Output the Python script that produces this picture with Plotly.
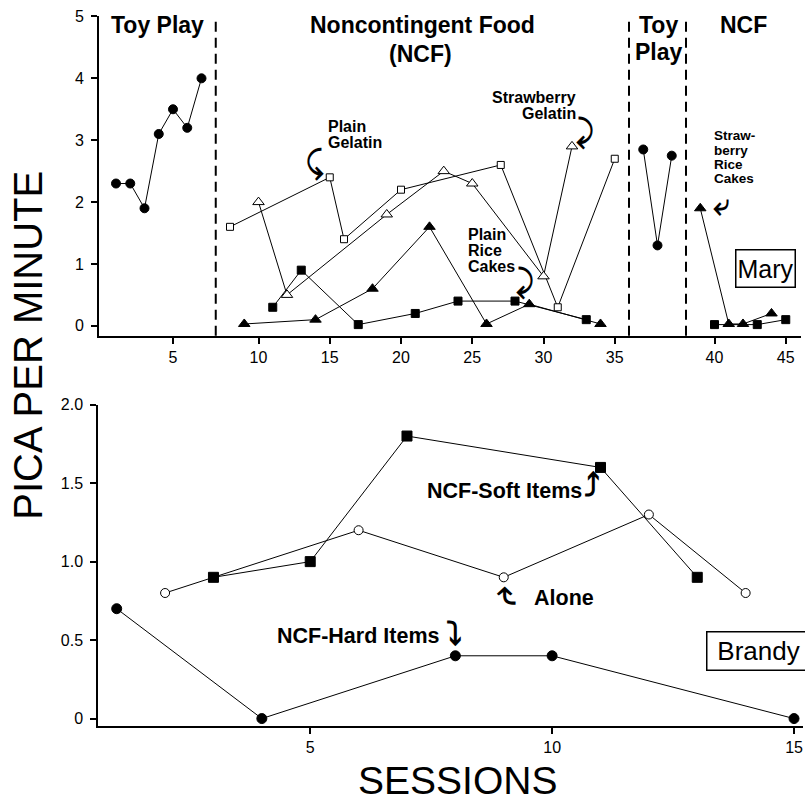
import plotly.graph_objects as go

W, H = 805, 801
FONT = "Liberation Sans, Arial, Helvetica, sans-serif"

# ---------------- data: Mary (top panel) ----------------
toy1_sessions = [1, 2, 3, 4, 5, 6, 7]
toy1_rate = [2.3, 2.3, 1.9, 3.1, 3.5, 3.2, 4.0]

plain_gel_sessions = [8, 15, 16, 20, 27, 31, 35]
plain_gel_rate = [1.6, 2.4, 1.4, 2.2, 2.6, 0.3, 2.7]

straw_gel_sessions = [10, 12, 19, 23, 25, 30, 32]
straw_gel_rate = [2.0, 0.5, 1.8, 2.5, 2.3, 0.8, 2.9]

plain_rice_sessions = [11, 13, 17, 21, 24, 28, 33]
plain_rice_rate = [0.3, 0.9, 0.02, 0.2, 0.4, 0.4, 0.1]

straw_rice_sessions = [9, 14, 18, 22, 26, 29, 34]
straw_rice_rate = [0.03, 0.1, 0.6, 1.6, 0.03, 0.35, 0.03]

toy2_sessions = [36, 37, 38]
toy2_rate = [2.85, 1.3, 2.75]

ncf2_straw_rice_sessions = [39, 41, 42, 44]
ncf2_straw_rice_rate = [1.9, 0.03, 0.03, 0.2]

ncf2_plain_rice_sessions = [40, 43, 45]
ncf2_plain_rice_rate = [0.02, 0.02, 0.1]

mary_ticks = [0, 1, 2, 3, 4, 5]
phase1_ticks = [5]
phase2_ticks = [10, 15, 20, 25, 30, 35]
phase4_ticks = [40, 45]

# ---------------- data: Brandy (bottom panel) ----------------
hard_sessions = [1, 4, 8, 10, 15]
hard_rate = [0.7, 0.0, 0.4, 0.4, 0.0]

soft_sessions = [3, 5, 7, 11, 13]
soft_rate = [0.9, 1.0, 1.8, 1.6, 0.9]

alone_sessions = [2, 6, 9, 12, 14]
alone_rate = [0.8, 1.2, 0.9, 1.3, 0.8]

brandy_ticks = [0, 0.5, 1.0, 1.5, 2.0]
brandy_ticktext = ["0", "0.5", "1.0", "1.5", "2.0"]
brandy_xticks = [5, 10, 15]


def px(x):
    return x / W


def py(y):
    # layout positions measured on the reference picture, mapped to figure space
    return 1 - ((y - 6.85) / 0.99) / H


fig = go.Figure()


def add_series(xs, ys, xa, ya, symbol, size, filled=True):
    fig.add_trace(go.Scatter(
        x=xs, y=ys, xaxis=xa, yaxis=ya, mode="lines+markers",
        line=dict(color="black", width=1),
        marker=dict(symbol=symbol, size=size,
                    color="black" if filled else "white",
                    line=dict(color="black", width=1)),
        showlegend=False, cliponaxis=False, hoverinfo="skip",
    ))


# top panel
add_series(toy1_sessions, toy1_rate, "x", "y", "circle", 9)
add_series(plain_gel_sessions, plain_gel_rate, "x2", "y", "square", 7, False)
add_series(straw_gel_sessions, straw_gel_rate, "x2", "y", "triangle-up", 10, False)
add_series(plain_rice_sessions, plain_rice_rate, "x2", "y", "square", 8)
add_series(straw_rice_sessions, straw_rice_rate, "x2", "y", "triangle-up", 10)
add_series(toy2_sessions, toy2_rate, "x3", "y", "circle", 9)
add_series(ncf2_straw_rice_sessions, ncf2_straw_rice_rate, "x4", "y", "triangle-up", 10)
add_series(ncf2_plain_rice_sessions, ncf2_plain_rice_rate, "x4", "y", "square", 8)

# bottom panel
add_series(hard_sessions, hard_rate, "x5", "y2", "circle", 10)
add_series(soft_sessions, soft_rate, "x5", "y2", "square", 10)
add_series(alone_sessions, alone_rate, "x5", "y2", "circle", 9, False)

axis_common = dict(showline=True, linewidth=2, linecolor="black", ticks="outside",
                   tickwidth=1.5, tickcolor="black", ticklen=6, showgrid=False,
                   zeroline=False, tickfont=dict(family=FONT, size=16, color="black"))

top_dom = [py(335), py(15.3)]
bot_dom = [py(725.7), py(404)]

# phase boundaries (pixel positions of dashed lines)
b0, b1, b2, b3, b4 = 99, 215.75, 629, 686, 801
unit = 14.25

fig.update_layout(
    width=W, height=H, margin=dict(l=0, r=0, t=0, b=0),
    paper_bgcolor="white", plot_bgcolor="white",
    xaxis=dict(domain=[px(b0), px(b1)], range=[8 - (b1 - b0) / unit, 8], anchor="y",
               tickvals=phase1_ticks, **axis_common),
    xaxis2=dict(domain=[px(b1), px(b2)], range=[7, 7 + (b2 - b1) / unit], anchor="y",
                tickvals=phase2_ticks, **axis_common),
    xaxis3=dict(domain=[px(b2), px(b3)], range=[35, 35 + (b3 - b2) / unit], anchor="y",
                tickvals=[], **axis_common),
    xaxis4=dict(domain=[px(b3), px(b4)], range=[38, 38 + (b4 - b3) / unit], anchor="y",
                tickvals=phase4_ticks, **axis_common),
    yaxis=dict(domain=top_dom, range=[-0.16, 5.0], anchor="x", tickvals=mary_ticks,
               ticklabelstandoff=4, **axis_common),
    xaxis5=dict(domain=[px(98.3), px(803)], range=[1 - (116.7 - 98.3) / 48.38, 1 + (803 - 116.7) / 48.38],
                anchor="y2", tickvals=brandy_xticks, **axis_common),
    yaxis2=dict(domain=bot_dom, range=[-0.047, 2.0], anchor="x5", tickvals=brandy_ticks,
                ticktext=brandy_ticktext, ticklabelstandoff=4, **axis_common),
)

# dashed phase-change lines
for xr in ["x2 domain", "x3 domain", "x4 domain"]:
    fig.add_shape(type="line", xref=xr, yref="y domain", x0=0, x1=0, y0=0, y1=0.985,
                  line=dict(color="black", width=2, dash="10px,6px"))

annotations = []


def text(x, y, s, size, bold=True, xanchor="center", family=FONT, angle=0):
    annotations.append(dict(
        x=px(x), y=py(y), xref="paper", yref="paper", text=f"<b>{s}</b>" if bold else s,
        showarrow=False, xanchor=xanchor, yanchor="middle", textangle=angle,
        font=dict(family=family, size=size, color="black")))


# phase headers
text(157, 24, "Toy Play", 23)
text(423, 24, "Noncontingent Food", 23)
text(420, 53, "(NCF)", 23)
text(658, 24, "Toy", 23)
text(658.5, 51, "Play", 23)
text(743, 24, "NCF", 23)

# condition labels (top)
text(326, 125.5, "Plain", 16, xanchor="left")
text(326, 142, "Gelatin", 16, xanchor="left")
text(578, 96, "Strawberry", 16, xanchor="right")
text(578, 112, "Gelatin", 16, xanchor="right")
text(466, 234, "Plain", 16, xanchor="left")
text(466, 250, "Rice", 16, xanchor="left")
text(466, 266, "Cakes", 16, xanchor="left")
text(712, 135, "Straw-", 13.5, xanchor="left")
text(712, 150, "berry", 13.5, xanchor="left")
text(712, 164, "Rice", 13.5, xanchor="left")
text(712, 178, "Cakes", 13.5, xanchor="left")

# condition labels (bottom)
text(425, 490, "NCF-Soft Items", 21.5, xanchor="left")
text(532, 598, "Alone", 21.5, xanchor="left")
text(275, 636, "NCF-Hard Items", 21.5, xanchor="left")

# curved arrows
ARW = "DejaVu Sans"
text(314, 162, "⤹", 31, family=ARW)
text(585, 131, "⤸", 31, family=ARW)
text(525, 281, "⤸", 31, family=ARW)
text(721, 204, "⤶", 30, family=ARW)
text(592, 485, "⤴", 32, family=ARW)
text(510, 595, "⤶", 34, family=ARW, angle=90)
text(454, 634, "⤵", 32, family=ARW)

# axis titles
text(28, 345, "PICA PER MINUTE", 40, bold=False, angle=-90)
text(457, 780, "SESSIONS", 39, bold=False)

# participant boxes
annotations.append(dict(x=px(735), y=py(267.5), xref="paper", yref="paper", text="Mary",
                        showarrow=False, xanchor="left", yanchor="middle",
                        font=dict(family=FONT, size=25, color="black"),
                        bordercolor="black", borderwidth=1.5, borderpad=1,
                        width=56, height=34))
annotations.append(dict(x=px(706), y=py(651), xref="paper", yref="paper", text="Brandy",
                        showarrow=False, xanchor="left", yanchor="middle",
                        font=dict(family=FONT, size=26, color="black"),
                        bordercolor="black", borderwidth=1.5, borderpad=1,
                        width=100, height=35))

fig.update_layout(annotations=annotations)

# pin the graph to the page's top-left corner so it fills the window exactly
pin = ("document.documentElement.style.margin='0';document.body.style.margin='0';"
       "document.body.style.overflow='hidden';"
       "var g=document.getElementById('{plot_id}');"
       "g.style.position='absolute';g.style.left='0px';g.style.top='0px';")
fig.write_html("out.html", post_script=pin, config={"displayModeBar": False})
